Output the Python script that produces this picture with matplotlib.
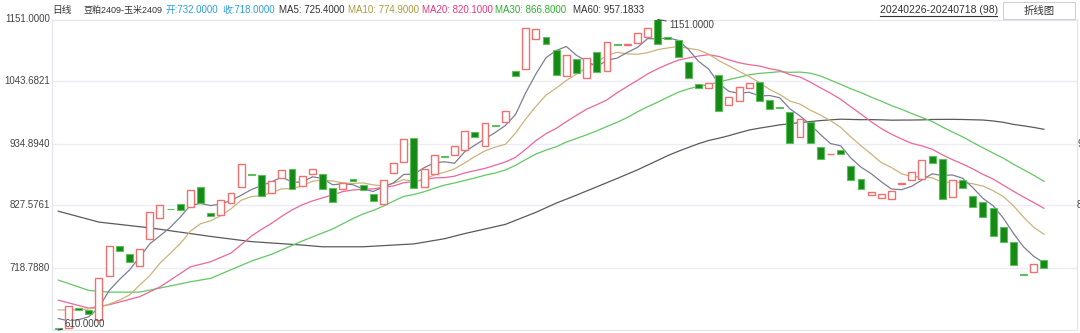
import numpy as np
import matplotlib.pyplot as plt
from matplotlib.patches import Rectangle

plt.rcParams['font.family'] = ['Liberation Sans', 'Noto Sans CJK SC', 'DejaVu Sans']

# 日线 豆粕2409-玉米2409 价差，20240226-20240718，共98根
opens = [614.0, 613.0, 648.9, 645.4, 627.5, 704.7, 756.9, 741.9, 722.1, 768.1,
         805.2, 821.0, 829.0, 823.8, 859.7, 813.9, 809.9, 830.8, 858.7, 881.8,
         880.6, 848.2, 874.3, 891.1, 860.9, 881.8, 881.8, 856.9, 855.2, 873.1,
         862.7, 847.0, 830.1, 883.1, 902.7, 945.1, 858.7, 881.3, 912.7, 915.5,
         923.6, 954.5, 930.1, 966.5, 971.9, 1060.8, 1064.2, 1117.0, 1121.0, 1097.9,
         1052.6, 1081.7, 1049.6, 1094.9, 1061.8, 1107.5, 1107.0, 1110.6, 1120.5, 1151.0,
         1121.0, 1115.3, 1077.5, 1038.6, 1031.7, 1053.8, 1002.0, 1008.5, 1032.2, 1041.6,
         1010.2, 998.3, 990.4, 946.3, 972.9, 929.4, 916.5, 923.6, 895.8, 872.6,
         845.2, 840.5, 838.8, 865.0, 870.9, 872.6, 912.7, 907.4, 841.8, 870.9,
         844.0, 833.6, 823.1, 789.5, 762.8, 706.9, 710.6, 732.0]
closes = [611.0, 652.0, 645.4, 638.4, 700.1, 756.9, 747.7, 729.0, 750.6, 815.6,
          827.3, 820.0, 819.6, 854.0, 830.8, 809.2, 836.0, 848.2, 899.8, 880.1,
          844.0, 869.1, 889.3, 856.2, 878.9, 891.1, 855.7, 833.0, 865.6, 870.2,
          854.0, 834.3, 871.9, 901.5, 943.3, 856.9, 890.0, 914.4, 910.9, 930.6,
          957.3, 946.8, 970.2, 965.5, 991.6, 1053.1, 1135.7, 1133.9, 1107.8, 1054.3,
          1088.6, 1058.3, 1083.4, 1059.0, 1111.3, 1106.6, 1108.0, 1127.0, 1135.7, 1107.8,
          1117.0, 1086.2, 1049.6, 1031.1, 1039.8, 992.1, 1016.5, 1032.9, 1039.8, 1008.5,
          995.1, 997.3, 936.4, 977.1, 935.3, 908.0, 917.5, 916.7, 871.4, 855.2,
          851.0, 847.5, 852.7, 866.0, 885.3, 905.7, 901.0, 837.7, 870.9, 856.9,
          824.3, 807.4, 773.8, 763.4, 723.8, 705.9, 725.0, 718.0]

# 均线起始段（之前的数据不在图中，直接从图上读）
ma5_head_idx = [0, 1, 2, 3]
ma5_head = [630, 626, 628, 633]
ma10_head_idx = [0, 2, 4, 5, 6, 7, 8]
ma10_head = [645, 645, 649, 655, 662, 671, 688]
ma20_head_idx = [0, 3, 5, 8, 10, 13, 15, 17]
ma20_head = [662, 648, 654, 668, 685, 720, 729, 744]
ma30_head_idx = [0, 3, 5, 8, 10, 13, 15, 19, 21, 24, 27]
ma30_head = [697, 679, 676, 676, 683, 694, 700, 730, 742, 765, 786]
ma60_head_idx = [0, 4, 9, 13, 15, 19, 24, 26, 30, 33, 35, 38, 40, 44, 47, 49, 51, 55, 57]
ma60_head = [817, 798, 788, 778, 773, 764, 758, 755, 755, 758, 760, 769, 778, 794, 815, 831, 845, 874, 889]

high_idx, high_val = 59, 1151.0
low_idx, low_val = 0, 610.0

y_ticks = [718.7880, 827.5761, 934.8940, 1043.6821, 1151.0000]

title_parts = [("日线", '#333333'), ("豆粕2409-玉米2409", '#333333'),
               ("开:732.0000", '#2a9fe0'), ("收:718.0000", '#2a9fe0'),
               ("MA5: 725.4000", '#333333'), ("MA10: 774.9000", '#a99b3c'),
               ("MA20: 820.1000", '#e8387c'), ("MA30: 866.8000", '#2bb02b'),
               ("MA60: 957.1833", '#333333')]
title_x = [52, 84, 166, 222, 279, 347, 418, 492, 573]
title_size = [7, 6.5, 7, 7, 7, 7, 7, 7, 7]

ma_colors = {5: '#7d7d96', 10: '#cbb37a', 20: '#f0649c', 30: '#62c862', 60: '#5a5a5a'}
heads = {5: (ma5_head_idx, ma5_head), 10: (ma10_head_idx, ma10_head),
         20: (ma20_head_idx, ma20_head), 30: (ma30_head_idx, ma30_head),
         60: (ma60_head_idx, ma60_head)}

W, H = 1080, 333
fig = plt.figure(figsize=(W / 100, H / 100), dpi=100)
fig.patch.set_facecolor('white')
ax = fig.add_axes([52 / W, (H - 330) / H, 1025 / W, 310.5 / H])

n = len(closes)
x = np.arange(n)
c = np.array(closes)
o = np.array(opens)

ax.set_xlim(-0.62, 100.26)
ax.set_ylim(610, 1151)

for t in y_ticks[:-1]:
    ax.axhline(t, color='#ececf6', lw=1, zorder=0)

# 均线
for p in [60, 30, 20, 10, 5]:
    hi, hv = heads[p]
    calc_x = list(range(p - 1, n))
    calc_v = [c[i - p + 1:i + 1].mean() for i in calc_x]
    ax.plot(list(hi) + calc_x, list(hv) + calc_v, color=ma_colors[p], lw=0.9, zorder=2)

# K线实体
up = c >= o
bw = 0.68
for i in range(n):
    lo = min(o[i], c[i])
    h = max(abs(c[i] - o[i]), 0.8)
    if up[i]:
        r = Rectangle((x[i] - bw / 2, lo), bw, h, facecolor='white',
                      edgecolor='#f07070', lw=1.0, zorder=3)
    else:
        r = Rectangle((x[i] - bw / 2, lo), bw, h, facecolor='#168a16',
                      edgecolor='#5cbf5c', lw=0.8, zorder=3)
    ax.add_patch(r)

for s in ax.spines.values():
    s.set_color('#e4e4f0')
ax.set_xticks([])
ax.set_yticks([])

def fx(px):
    return px / W

def fy(py):
    return 1 - py / H

def ypix(v):
    return 19.5 + (1151 - v) / 1.7422

for t in y_ticks:
    fig.text(fx(50), fy(ypix(t)), f"{t:.4f}", ha='right', va='center',
             fontsize=7, color='#444444')
# 右侧被截断的刻度
for t in [934.8940, 827.5761]:
    fig.text(fx(1077), fy(ypix(t)), f"{t:.4f}", ha='left', va='center',
             fontsize=7, color='#444444')

# 最高/最低标注
ax.annotate(f"{high_val:.4f}", xy=(high_idx, high_val), xytext=(high_idx + 1.1, high_val - 10),
            fontsize=7, color='#444444', va='center', ha='left',
            arrowprops=dict(arrowstyle='-', color='#555555', lw=0.8,
                            shrinkA=0, shrinkB=0), annotation_clip=False)
ax.annotate(f"{low_val:.4f}", xy=(low_idx, low_val), xytext=(low_idx + 0.65, low_val + 11),
            fontsize=7, color='#444444', va='center', ha='left',
            arrowprops=dict(arrowstyle='-', color='#333333', lw=0.8,
                            shrinkA=0, shrinkB=0), annotation_clip=False)

# 标题行：按参考位置摆放，挤到一起时往后顺延
renderer = fig.canvas.get_renderer()
prev_end = 0
for (txt, col), px, sz in zip(title_parts, title_x, title_size):
    start = max(px, prev_end + 3)
    tt = fig.text(fx(start), fy(10), txt, ha='left', va='center', fontsize=sz, color=col)
    prev_end = tt.get_window_extent(renderer).x1

fig.text(fx(880), fy(10), "20240226-20240718 (98)", ha='left', va='center',
         fontsize=7.5, color='#333333')
fig.add_artist(plt.Line2D([fx(880), fx(997)], [fy(16), fy(16)], color='#333333', lw=0.8))
fig.add_artist(Rectangle((fx(1003), fy(19)), fx(72), 17 / H, facecolor='white',
                         edgecolor='#cfcfd8', lw=0.8))
fig.text(fx(1039), fy(10.5), "折线图", ha='center', va='center', fontsize=7.5, color='#333333')

fig.savefig('out.png', dpi=100)
